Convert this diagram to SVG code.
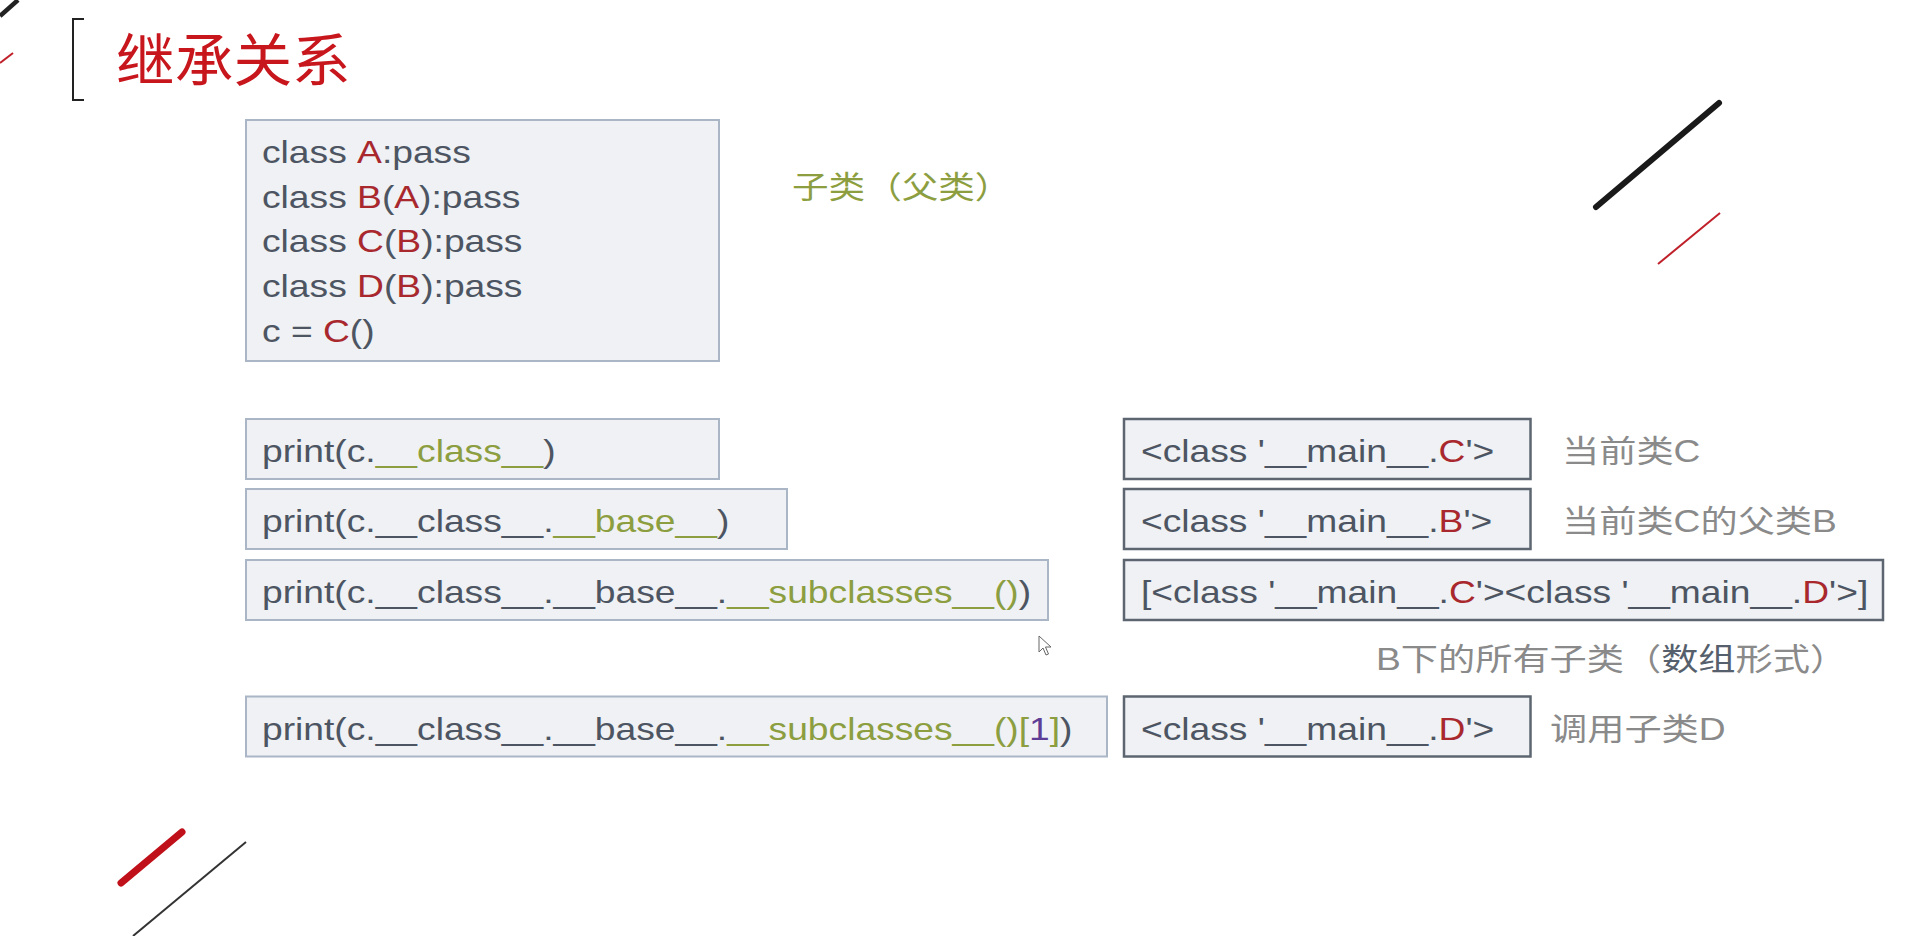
<svg xmlns="http://www.w3.org/2000/svg" width="1926" height="936" viewBox="0 0 1926 936">
<style>
.bg{fill:#ffffff}
.code{font-family:"Liberation Sans","Noto Sans CJK SC",sans-serif;font-size:31px;fill:#4d5562}
.r{fill:#a8282e}
.g{fill:#8c9e40}
.p{fill:#5e3d96}
.lbox{fill:#eff1f4;stroke:#aab6c6;stroke-width:2}
.rbox{fill:#eff1f4;stroke:#5d6670;stroke-width:2.5}
.note{font-family:"Liberation Sans","Noto Sans CJK SC",sans-serif;font-size:31px;fill:#8a8a8a}
.dk{fill:#55606c}
.title{font-family:"Noto Sans CJK SC","Liberation Sans",sans-serif;font-size:57px;fill:#c8161d}
.green{font-family:"Noto Sans CJK SC","Liberation Sans",sans-serif;font-size:31px;fill:#8c9e40}
</style>
<rect class="bg" x="0" y="0" width="1926" height="936"/>
<g id="decor">
<line x1="0" y1="16" x2="18" y2="0" stroke="#222" stroke-width="4.5"/>
<line x1="0" y1="63" x2="13" y2="53" stroke="#c0202a" stroke-width="2"/>
<line x1="1596" y1="207" x2="1719" y2="103" stroke="#1a1a1a" stroke-width="6" stroke-linecap="round"/>
<line x1="1658" y1="264" x2="1720" y2="213" stroke="#c0202a" stroke-width="2"/>
<line x1="121" y1="883" x2="182" y2="832" stroke="#c0101a" stroke-width="7" stroke-linecap="round"/>
<line x1="133" y1="936" x2="246" y2="842" stroke="#333" stroke-width="2"/>
<path d="M84,19 H73 V100 H84" fill="none" stroke="#222" stroke-width="2"/>
<path d="M1039,636 V652 L1043,648 L1046,655 L1048.5,654 L1045.5,647 L1051,647 Z" fill="#fff" stroke="#666" stroke-width="1"/>
</g>
<g id="title">
<text class="title" transform="translate(116,81) scale(1.03,1)">继承关系</text>
</g>
<g id="code-box">
<rect class="lbox" x="246" y="120" width="473" height="241"/>
<text class="code" transform="translate(262,163) scale(1.2,1)">class <tspan class="r">A</tspan>:pass</text>
<text class="code" transform="translate(262,207.6) scale(1.2,1)">class <tspan class="r">B</tspan>(<tspan class="r">A</tspan>):pass</text>
<text class="code" transform="translate(262,252) scale(1.2,1)">class <tspan class="r">C</tspan>(<tspan class="r">B</tspan>):pass</text>
<text class="code" transform="translate(262,297) scale(1.2,1)">class <tspan class="r">D</tspan>(<tspan class="r">B</tspan>):pass</text>
<text class="code" transform="translate(262,341.5) scale(1.2,1)">c = <tspan class="r">C</tspan>()</text>
</g>
<g id="note-subclass">
<text class="green" transform="translate(792,198) scale(1.18,1)">子类（父类）</text>
</g>
<g id="expr1">
<rect class="lbox" x="246" y="419" width="473" height="60"/>
<text class="code" transform="translate(262,462) scale(1.2,1)">print(c.<tspan class="g">__class__</tspan>)</text>
</g>
<g id="expr2">
<rect class="lbox" x="246" y="489" width="541" height="60"/>
<text class="code" transform="translate(262,532) scale(1.2,1)">print(c.__class__.<tspan class="g">__base__</tspan>)</text>
</g>
<g id="expr3">
<rect class="lbox" x="246" y="560" width="802" height="60"/>
<text class="code" transform="translate(262,603) scale(1.2,1)">print(c.__class__.__base__.<tspan class="g">__subclasses__()</tspan>)</text>
</g>
<g id="expr4">
<rect class="lbox" x="246" y="696.5" width="861" height="60"/>
<text class="code" transform="translate(262,739.5) scale(1.2,1)">print(c.__class__.__base__.<tspan class="g">__subclasses__()[</tspan><tspan class="p">1</tspan><tspan class="g">]</tspan>)</text>
</g>
<g id="result1">
<rect class="rbox" x="1124" y="419" width="406.5" height="60"/>
<text class="code" transform="translate(1141,462) scale(1.2,1)">&lt;class '__main__.<tspan class="r">C</tspan>'&gt;</text>
</g>
<g id="result2">
<rect class="rbox" x="1124" y="489" width="406.5" height="60"/>
<text class="code" transform="translate(1141,532) scale(1.2,1)">&lt;class '__main__.<tspan class="r">B</tspan>'&gt;</text>
</g>
<g id="result3">
<rect class="rbox" x="1124" y="560" width="759" height="60"/>
<text class="code" transform="translate(1141,603) scale(1.2,1)">[&lt;class '__main__.<tspan class="r">C</tspan>'&gt;&lt;class '__main__.<tspan class="r">D</tspan>'&gt;]</text>
</g>
<g id="result4">
<rect class="rbox" x="1124" y="696.5" width="406.5" height="60"/>
<text class="code" transform="translate(1141,739.5) scale(1.2,1)">&lt;class '__main__.<tspan class="r">D</tspan>'&gt;</text>
</g>
<g id="label1">
<text class="note" transform="translate(1562,462) scale(1.2,1)">当前类C</text>
</g>
<g id="label2">
<text class="note" transform="translate(1562,532) scale(1.2,1)">当前类C的父类B</text>
</g>
<g id="label3">
<text class="note" transform="translate(1376,670) scale(1.2,1)">B下的所有子类（<tspan class="dk">数组</tspan>形式）</text>
</g>
<g id="label4">
<text class="note" transform="translate(1550,739.5) scale(1.2,1)">调用子类D</text>
</g>
<g id="connectors"/>
</svg>
